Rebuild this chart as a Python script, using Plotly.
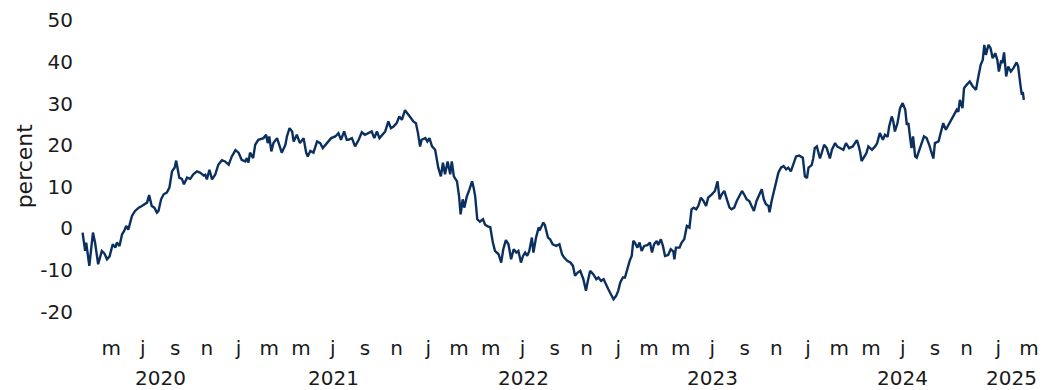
import pandas as pd
import plotly.graph_objects as go

# Day offsets from 2020-01-01 and the value (percent) read at each
days = [66, 71, 73, 76, 79, 86, 90, 96, 103, 108, 113, 118, 124, 129, 132, 137, 142, 146, 150, 154,
        161, 167, 174, 180, 185, 190, 194, 199, 204, 209, 212, 217, 222, 228, 233, 238, 243, 246, 249, 252,
        257, 261, 267, 273, 279, 286, 292, 299, 302, 305, 310, 315, 321, 327, 334, 340, 347, 353, 360, 366,
        372, 379, 382, 385, 388, 394, 398, 404, 414, 419, 422, 425, 429, 433, 440, 444, 449, 456, 459, 464,
        469, 472, 478, 484, 491, 496, 499, 504, 510, 517, 523, 528, 536, 544, 552, 558, 563, 569, 574, 577,
        584, 590, 597, 603, 609, 616, 622, 627, 632, 637, 642, 648, 654, 659, 664, 670, 675, 680, 686, 693,
        697, 702, 707, 711, 715, 718, 725, 729, 733, 738, 744, 750, 755, 759, 763, 768, 773, 776, 780, 786,
        790, 793, 797, 800, 805, 810, 815, 818, 821, 825, 830, 836, 840, 845, 850, 855, 859, 866, 871, 875,
        880, 885, 890, 895, 900, 904, 909, 913, 917, 921, 925, 930, 933, 938, 943, 946, 952, 955, 961, 965,
        970, 977, 983, 988, 992, 998, 1004, 1009, 1013, 1018, 1023, 1029, 1034, 1037, 1042, 1048, 1054, 1058, 1063, 1068,
        1073, 1077, 1082, 1087, 1092, 1096, 1100, 1105, 1109, 1113, 1118, 1122, 1125, 1128, 1133, 1137, 1141, 1146, 1152, 1157,
        1161, 1165, 1170, 1173, 1178, 1182, 1186, 1192, 1197, 1202, 1204, 1207, 1214, 1218, 1223, 1228, 1233, 1237, 1241, 1246,
        1250, 1255, 1260, 1265, 1269, 1276, 1282, 1287, 1291, 1295, 1300, 1305, 1310, 1314, 1319, 1324, 1329, 1334, 1338, 1343,
        1348, 1353, 1357, 1362, 1367, 1372, 1376, 1380, 1385, 1387, 1391, 1396, 1401, 1404, 1409, 1414, 1419, 1423, 1428, 1433,
        1438, 1444, 1451, 1455, 1459, 1462, 1468, 1471, 1474, 1478, 1481, 1484, 1487, 1492, 1497, 1503, 1507, 1513, 1517, 1523,
        1529, 1534, 1540, 1547, 1555, 1558, 1561, 1564, 1567, 1573, 1577, 1584, 1590, 1594, 1599, 1605, 1609, 1614, 1617, 1622,
        1625, 1628, 1633, 1638, 1643, 1648, 1651, 1654, 1657, 1660, 1663, 1667, 1670, 1675, 1680, 1684, 1689, 1694, 1699, 1702,
        1705, 1712, 1716, 1721, 1726, 1731, 1737, 1744, 1747, 1750, 1753, 1758, 1761, 1766, 1772, 1778, 1784, 1788, 1793, 1797,
        1800, 1803, 1808, 1812, 1816, 1821, 1825, 1828, 1832, 1835, 1838, 1842, 1846, 1851, 1856, 1862, 1865, 1869, 1872, 1874,
        1876]

values = [-1.0, -5.4, -3.4, -6.0, -9.0, -1.0, -3.4, -8.6, -5.4, -6.0, -7.4, -6.7, -3.8, -4.6, -3.4, -4.2, -1.4, -0.6, 0.6, -0.3,
          3.0, 4.2, 5.0, 5.4, 5.8, 6.2, 8.0, 5.4, 5.0, 3.8, 4.2, 7.0, 8.2, 8.6, 9.8, 13.7, 14.6, 16.3, 14.2, 12.2,
          11.9, 10.6, 12.2, 11.9, 13.0, 13.7, 13.4, 12.7, 12.9, 11.8, 14.1, 11.8, 12.9, 15.3, 16.4, 16.1, 15.3, 17.3, 18.8, 18.2,
          16.5, 16.1, 16.9, 15.8, 18.2, 16.9, 20.1, 21.3, 21.7, 22.5, 20.5, 22.1, 18.5, 20.5, 21.7, 20.1, 18.2, 20.1, 22.1, 24.1,
          23.3, 20.9, 22.5, 20.5, 21.7, 18.2, 17.3, 18.6, 18.2, 20.9, 20.5, 19.3, 20.5, 21.7, 22.1, 22.9, 21.3, 23.3, 21.3, 21.3,
          21.7, 19.7, 21.3, 23.1, 22.5, 22.9, 23.3, 21.7, 23.3, 21.7, 22.5, 23.3, 25.7, 24.1, 24.5, 25.3, 26.9, 26.1, 28.4, 27.4,
          26.6, 25.7, 25.3, 22.9, 19.7, 21.3, 21.7, 20.9, 21.7, 19.7, 18.9, 14.6, 12.5, 15.8, 13.0, 16.1, 13.0, 16.1, 12.5, 11.3,
          7.7, 3.4, 7.0, 5.0, 7.7, 9.4, 11.3, 9.8, 7.7, 2.2, 1.6, 2.2, 0.9, 0.5, 0.3, -3.4, -5.4, -6.2, -8.2, -5.0,
          -2.8, -3.8, -7.4, -5.0, -5.8, -5.4, -8.2, -6.6, -5.8, -6.6, -5.4, -2.2, -5.8, -2.2, 0.2, -0.2, 1.4, 0.8, -2.2, -2.6,
          -3.8, -4.2, -3.8, -6.2, -7.0, -7.8, -8.2, -9.0, -11.4, -10.6, -10.2, -12.2, -15.0, -13.0, -10.2, -11.0, -12.2, -11.8, -12.6, -12.2,
          -13.8, -14.6, -15.8, -17.0, -16.2, -15.0, -13.0, -11.8, -11.8, -9.8, -7.8, -6.6, -3.0, -3.4, -4.6, -3.4, -5.4, -4.2, -4.0, -3.4,
          -5.8, -3.8, -3.0, -4.0, -2.6, -4.2, -6.6, -6.4, -5.0, -5.5, -7.4, -4.6, -4.6, -3.4, -2.6, 0.6, 0.2, 4.6, 5.0, 4.6,
          5.4, 7.4, 6.6, 5.4, 7.4, 8.2, 9.0, 11.3, 7.0, 8.2, 9.0, 7.0, 5.0, 4.6, 5.0, 6.6, 7.8, 9.0, 8.2, 7.0,
          6.6, 5.0, 4.2, 6.6, 8.2, 9.4, 7.0, 5.8, 5.4, 3.9, 6.6, 9.0, 11.3, 13.4, 14.6, 15.0, 14.2, 14.6, 13.7, 15.8,
          17.3, 17.5, 17.0, 12.5, 12.1, 14.6, 15.2, 16.8, 19.3, 19.7, 18.5, 16.8, 18.0, 20.1, 19.3, 16.8, 18.9, 20.5, 19.7, 19.3,
          18.9, 20.5, 19.3, 19.7, 21.2, 20.0, 18.5, 16.2, 16.8, 18.0, 19.7, 18.9, 19.7, 20.5, 22.9, 21.3, 22.5, 22.0, 24.5, 26.9,
          25.7, 23.3, 25.3, 28.9, 30.1, 28.5, 24.9, 25.3, 22.1, 19.3, 22.1, 17.3, 17.0, 18.9, 20.5, 22.1, 21.7, 20.1, 18.0, 16.8,
          20.5, 20.9, 22.9, 25.3, 23.7, 24.9, 26.1, 27.7, 28.5, 28.0, 30.9, 28.9, 33.7, 34.5, 35.3, 34.1, 33.3, 36.1, 39.3, 40.5,
          44.1, 41.7, 44.1, 43.3, 40.9, 42.1, 40.5, 37.7, 40.1, 40.0, 42.3, 36.5, 38.9, 37.7, 38.5, 39.9, 39.0, 34.9, 32.1, 32.8,
          30.9]

y_ticks = [-20, -10, 0, 10, 20, 30, 40, 50]
y_tick_labels = ["-20", "-10", "0", "10", "20", "30", "40", "50"]
month_letters = {1: "j", 3: "m", 5: "m", 7: "j", 9: "s", 11: "n"}
years = [2020, 2021, 2022, 2023, 2024, 2025]

base = pd.Timestamp("2020-01-01")
dates = base + pd.to_timedelta(days, unit="D")
x_start = pd.Timestamp("2020-03-04")
x_end = pd.Timestamp("2025-03-24")

tickvals, ticktext = [], []
for d in pd.date_range("2020-01-01", "2025-12-01", freq="MS"):
    if d.month in month_letters and x_start <= d <= x_end:
        tickvals.append(d)
        ticktext.append(month_letters[d.month])

FONT = "DejaVu Sans"
TXT = "#1a1a1a"

fig = go.Figure()
fig.add_trace(go.Scatter(x=dates, y=values, mode="lines",
                         line=dict(color="#0b3060", width=2.4), showlegend=False,
                         hoverinfo="x+y"))

data_start, data_end = dates.min(), dates.max()
for yr in years:
    a = max(pd.Timestamp(f"{yr}-01-01"), data_start)
    b = min(pd.Timestamp(f"{yr}-12-31"), data_end)
    mid = a + (b - a) / 2
    fig.add_annotation(x=mid, xref="x", y=-0.188, yref="paper", text=str(yr),
                       showarrow=False, font=dict(family=FONT, size=20, color=TXT),
                       xanchor="center", yanchor="middle")

fig.add_annotation(x=-0.059, xref="paper", y=0.5, yref="paper", text="percent",
                   textangle=-90, showarrow=False,
                   font=dict(family=FONT, size=22, color=TXT),
                   xanchor="center", yanchor="middle")

fig.update_layout(
    width=1051, height=390,
    margin=dict(l=81, r=10, t=12, b=70),
    paper_bgcolor="white", plot_bgcolor="white",
    font=dict(family=FONT, size=20, color=TXT),
    xaxis=dict(type="date", range=[x_start, x_end], tickvals=tickvals, ticktext=ticktext,
               showgrid=False, zeroline=False, showline=False, ticks="", automargin=False,
               tickfont=dict(family=FONT, size=20, color=TXT), ticklabelstandoff=14),
    yaxis=dict(range=[-22, 52], tickvals=y_ticks, ticktext=y_tick_labels,
               showgrid=False, zeroline=False, showline=False, ticks="", automargin=False,
               tickfont=dict(family=FONT, size=20, color=TXT), ticklabelstandoff=7),
)

fig.write_html("out.html", config={"displayModeBar": False},
               post_script="document.body.style.margin='0';")
